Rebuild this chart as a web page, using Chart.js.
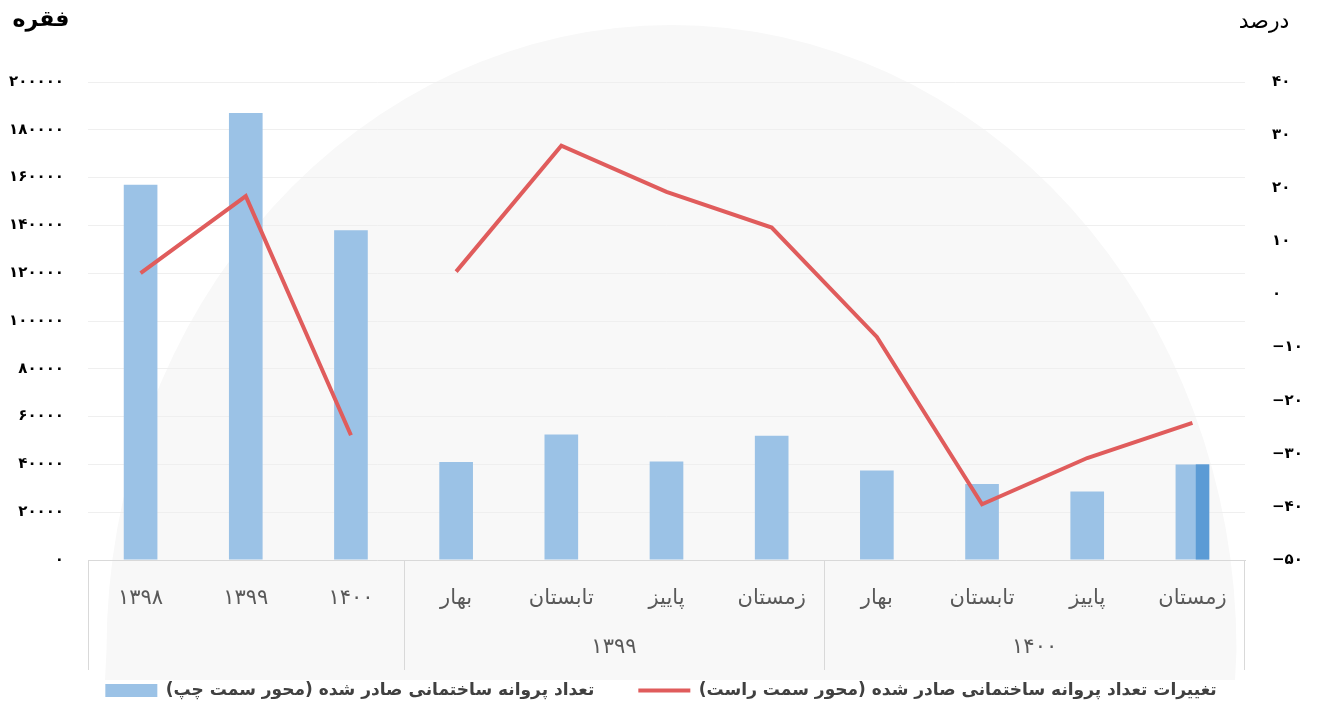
<!DOCTYPE html>
<html>
<head>
<meta charset="utf-8">
<script src="https://cdn.jsdelivr.net/npm/chart.js@4.4.1/dist/chart.umd.min.js"></script>
<style>
  html, body { margin: 0; padding: 0; background: #fff; }
  #wrap { width: 1322px; height: 709px; }
</style>
</head>
<body>
<div id="wrap"><canvas id="permits-chart"></canvas></div>
<script>
// categories (yearly first, then quarterly for 1399 and 1400)
const categories = ['۱۳۹۸', '۱۳۹۹', '۱۴۰۰', 'بهار', 'تابستان', 'پاییز', 'زمستان', 'بهار', 'تابستان', 'پاییز', 'زمستان'];
const groups = [
    { label: '', from: 0, to: 2 },
    { label: '۱۳۹۹', from: 3, to: 6 },
    { label: '۱۴۰۰', from: 7, to: 10 }
];

// number of permits issued (left axis)
const permitCounts = [157000, 187000, 138000, 41000, 52500, 41200, 52000, 37500, 31800, 28700, 40000];
// change in number of permits, percent (right axis)
const permitChange = [4, 18.5, -26.5, 4.3, 28, 19.3, 12.6, -8, -39.5, -30.8, -24.2];

const barLabel = 'تعداد پروانه ساختمانی صادر شده (محور سمت چپ)';
const lineLabel = 'تغییرات تعداد پروانه ساختمانی صادر شده (محور سمت راست)';

const leftTitle = 'فقره';
const rightTitle = 'درصد';

const FONT = '"DejaVu Sans", sans-serif';

function toPersian(n) {
    const digits = '۰۱۲۳۴۵۶۷۸۹';
    const s = String(Math.abs(n)).replace(/[0-9]/g, d => digits[d]);
    // LTR isolate so the minus stays on the left
    return '\u2066' + (n < 0 ? '−' : '') + s + '\u2069';
}

const decorPlugin = {
    id: 'decor',
    beforeDraw(chart) {
        const { ctx, chartArea } = chart;
        ctx.save();
        // faint dome watermark
        ctx.fillStyle = '#f8f8f8';
        ctx.beginPath();
        ctx.ellipse((chartArea.left + chartArea.right) / 2 + 5, 650, 565, 625, 0, Math.PI, 2 * Math.PI);
        ctx.lineTo(1235, 680);
        ctx.lineTo(105, 680);
        ctx.closePath();
        ctx.fill();
        ctx.restore();
    },
    afterDatasetsDraw(chart) {
        // highlighted right part of the last bar
        const meta = chart.getDatasetMeta(0);
        const bar = meta.data[meta.data.length - 1];
        if (!bar) return;
        const { ctx } = chart;
        const left = bar.x - bar.width / 2;
        ctx.save();
        ctx.fillStyle = '#5b9bd5';
        ctx.fillRect(left + bar.width * 0.6, bar.y, bar.width * 0.4, bar.base - bar.y);
        ctx.restore();
    },
    afterDraw(chart) {
        const { ctx, chartArea, scales } = chart;
        const x = scales.x;
        const step = x.getPixelForValue(1) - x.getPixelForValue(0);
        ctx.save();
        // group separators and group labels
        ctx.strokeStyle = '#d9d9d9';
        ctx.lineWidth = 1;
        const bottom = chartArea.bottom + 110;
        groups.forEach((g, gi) => {
            const l = x.getPixelForValue(g.from) - step / 2;
            const r = x.getPixelForValue(g.to) + step / 2;
            ctx.beginPath();
            ctx.moveTo(Math.round(l) + 0.5, chartArea.bottom);
            ctx.lineTo(Math.round(l) + 0.5, bottom);
            if (gi === groups.length - 1) {
                ctx.moveTo(Math.round(r) - 0.5, chartArea.bottom);
                ctx.lineTo(Math.round(r) - 0.5, bottom);
            }
            ctx.stroke();
            if (g.label) {
                ctx.fillStyle = '#595959';
                ctx.font = '21px ' + FONT;
                ctx.textAlign = 'center';
                ctx.textBaseline = 'middle';
                ctx.fillText(g.label, (l + r) / 2, chartArea.bottom + 88);
            }
        });
        // axis titles
        ctx.fillStyle = '#000';
        ctx.textBaseline = 'middle';
        ctx.textAlign = 'center';
        ctx.font = 'bold 22px ' + FONT;
        ctx.fillText(leftTitle, 41, 20);
        ctx.font = '22px ' + FONT;
        ctx.fillText(rightTitle, 1264, 22);
        ctx.restore();
    }
};

const ctx = document.getElementById('permits-chart');
const permitsChart = new Chart(ctx, {
    type: 'bar',
    data: {
        labels: categories,
        datasets: [
            {
                type: 'bar',
                label: barLabel,
                data: permitCounts,
                backgroundColor: '#9bc2e6',
                borderWidth: 0,
                yAxisID: 'y',
                categoryPercentage: 1,
                barPercentage: 0.32,
                order: 2,
                pointStyle: 'rect'
            },
            {
                type: 'line',
                label: lineLabel,
                data: permitChange,
                borderColor: '#e05c5c',
                backgroundColor: '#e05c5c',
                borderWidth: 4,
                pointRadius: 0,
                tension: 0,
                yAxisID: 'y1',
                order: 1,
                pointStyle: 'line',
                // break between yearly and quarterly parts
                segment: {
                    borderColor: c => c.p0DataIndex === 2 ? 'rgba(0,0,0,0)' : undefined
                }
            }
        ]
    },
    options: {
        responsive: true,
        maintainAspectRatio: false,
        animation: false,
        layout: { padding: { top: 82, left: 0, right: 0, bottom: 0 } },
        scales: {
            x: {
                grid: { display: false, drawTicks: false },
                border: { display: true, color: '#d9d9d9' },
                ticks: {
                    color: '#595959',
                    font: { family: FONT, size: 21 },
                    padding: 26,
                    maxRotation: 0
                },
                afterFit: scale => { scale.height = 112; }
            },
            y: {
                position: 'left',
                min: 0,
                max: 200000,
                ticks: {
                    stepSize: 20000,
                    color: '#000',
                    font: { family: FONT, size: 15, weight: 'bold' },
                    padding: 24,
                    callback: v => toPersian(v)
                },
                grid: { color: '#efefef', drawTicks: false },
                border: { display: false },
                afterFit: scale => { scale.width = 88; }
            },
            y1: {
                position: 'right',
                min: -50,
                max: 40,
                ticks: {
                    stepSize: 10,
                    color: '#000',
                    font: { family: FONT, size: 15, weight: 'bold' },
                    padding: 27,
                    callback: v => toPersian(v)
                },
                grid: { display: false, drawTicks: false },
                border: { display: false },
                afterFit: scale => { scale.width = 77; }
            }
        },
        plugins: {
            legend: {
                position: 'bottom',
                align: 'center',
                labels: {
                    usePointStyle: true,
                    pointStyleWidth: 52,
                    boxHeight: 13,
                    color: '#404040',
                    font: { family: FONT, size: 17, weight: 'bold' },
                    padding: 10,
                    generateLabels: chart => {
                        const items = Chart.defaults.plugins.legend.labels.generateLabels(chart);
                        items.sort((a, b) => a.datasetIndex - b.datasetIndex);
                        return items.map(item => {
                            // RTL isolate for Persian text, extra gap after the bar item
                            item.text = '\u2067' + item.text + '\u2069' + (item.datasetIndex === 0 ? '\u2003\u2003' : '');
                            return item;
                        });
                    }
                }
            },
            tooltip: { enabled: false }
        }
    },
    plugins: [decorPlugin]
});
</script>
</body>
</html>
